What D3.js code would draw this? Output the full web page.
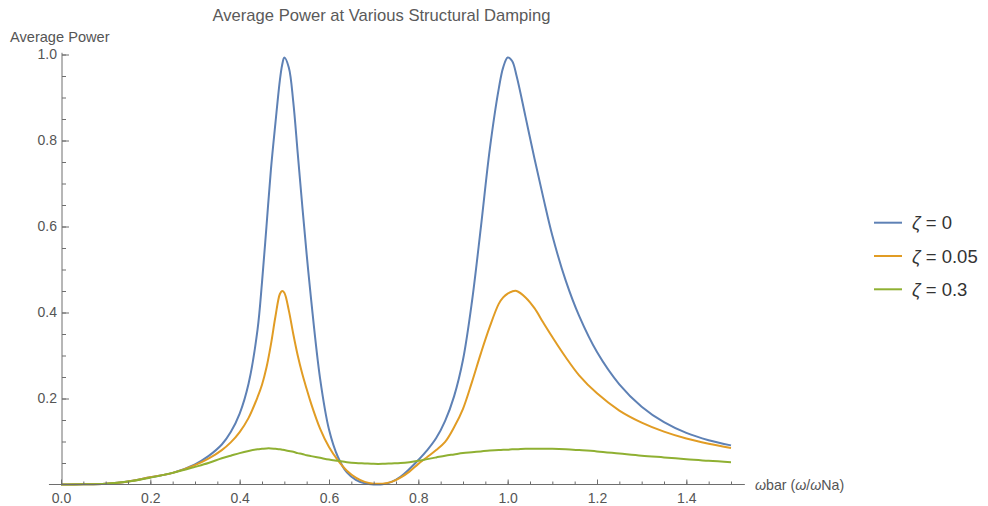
<!DOCTYPE html>
<html>
<head>
<meta charset="utf-8">
<script src="https://cdn.jsdelivr.net/npm/d3@7"></script>
<style>
  html, body { margin: 0; padding: 0; background: #fff; }
  svg { display: block; font-family: "Liberation Sans", Arial, sans-serif; }
</style>
</head>
<body>
<svg id="chart" width="988" height="506"></svg>
<script>
// Normalized frequency ωbar = ω/ωNa
const omega = [0, 0.05, 0.1, 0.15, 0.2, 0.25, 0.3, 0.33, 0.36, 0.38, 0.40, 0.42, 0.44, 0.45, 0.46, 0.47, 0.48, 0.49, 0.495, 0.50, 0.51, 0.52, 0.53, 0.54, 0.55, 0.56, 0.58, 0.60, 0.62, 0.64, 0.66, 0.68, 0.70, 0.72, 0.74, 0.76, 0.78, 0.80, 0.82, 0.84, 0.86, 0.88, 0.90, 0.92, 0.94, 0.96, 0.98, 0.99, 1.00, 1.01, 1.02, 1.04, 1.06, 1.08, 1.10, 1.13, 1.16, 1.20, 1.25, 1.30, 1.35, 1.40, 1.45, 1.50];

// Average power, ζ = 0
const powerZeta0 = [0, 0.0005, 0.002, 0.007, 0.017, 0.027, 0.047, 0.066, 0.093, 0.122, 0.165, 0.235, 0.36, 0.47, 0.60, 0.733, 0.84, 0.94, 0.975, 0.993, 0.97, 0.89, 0.77, 0.65, 0.535, 0.43, 0.247, 0.128, 0.064, 0.028, 0.011, 0.003, 0.0002, 0.0005, 0.006, 0.018, 0.036, 0.057, 0.080, 0.108, 0.148, 0.205, 0.29, 0.425, 0.598, 0.78, 0.92, 0.97, 0.993, 0.985, 0.95, 0.855, 0.758, 0.666, 0.579, 0.474, 0.392, 0.308, 0.233, 0.181, 0.145, 0.120, 0.103, 0.091];

// Average power, ζ = 0.05
const powerZeta005 = [0, 0.0005, 0.002, 0.007, 0.017, 0.027, 0.045, 0.060, 0.080, 0.098, 0.122, 0.155, 0.203, 0.232, 0.272, 0.326, 0.39, 0.443, 0.450, 0.446, 0.405, 0.35, 0.30, 0.258, 0.222, 0.188, 0.13, 0.087, 0.056, 0.032, 0.016, 0.006, 0.002, 0.002, 0.006, 0.016, 0.030, 0.048, 0.064, 0.080, 0.099, 0.133, 0.176, 0.238, 0.305, 0.367, 0.42, 0.435, 0.444, 0.449, 0.450, 0.435, 0.41, 0.376, 0.343, 0.296, 0.254, 0.212, 0.172, 0.144, 0.123, 0.107, 0.095, 0.085];

// Average power, ζ = 0.3
const powerZeta03 = [0, 0.0005, 0.002, 0.007, 0.016, 0.027, 0.041, 0.050, 0.061, 0.067, 0.073, 0.078, 0.082, 0.083, 0.084, 0.084, 0.083, 0.082, 0.081, 0.080, 0.078, 0.076, 0.073, 0.071, 0.068, 0.066, 0.062, 0.058, 0.055, 0.052, 0.050, 0.049, 0.048, 0.048, 0.049, 0.050, 0.052, 0.055, 0.059, 0.063, 0.067, 0.070, 0.073, 0.075, 0.077, 0.079, 0.080, 0.081, 0.081, 0.082, 0.082, 0.083, 0.083, 0.083, 0.083, 0.082, 0.080, 0.077, 0.072, 0.067, 0.063, 0.059, 0.055, 0.052];

const zetaLabels = ["0", "0.05", "0.3"];
const seriesColors = ["#5e81b5", "#e19c24", "#8fb032"];

const xMajorTicks = [0, 0.2, 0.4, 0.6, 0.8, 1.0, 1.2, 1.4];
const xMinorTicks = d3.range(0, 31).map(i => +(i * 0.05).toFixed(2));
const yMajorTicks = [0.2, 0.4, 0.6, 0.8, 1.0];
const yMinorTicks = d3.range(1, 21).map(i => +(i * 0.05).toFixed(2));

const series = [powerZeta0, powerZeta005, powerZeta03].map((vals, i) => ({
  label: zetaLabels[i],
  color: seriesColors[i],
  points: omega.map((w, j) => [w, vals[j]])
}));

const svg = d3.select("#chart");
const axisColor = "#6e6e6e";
const labelColor = "#555";

const x = d3.scaleLinear().domain([0, 1.5]).range([61, 731]);
const y = d3.scaleLinear().domain([0, 1]).range([484.5, 54.5]);

// Title
svg.append("text")
  .attr("x", 381.5).attr("y", 21)
  .attr("text-anchor", "middle")
  .attr("font-size", 16.6)
  .attr("fill", "#5a5a5a")
  .text("Average Power at Various Structural Damping");

// Curves (centripetal Catmull–Rom keeps the unevenly spaced samples smooth)
const line = d3.line()
  .x(d => x(d[0]))
  .y(d => y(d[1]))
  .curve(d3.curveCatmullRom.alpha(0.5));

svg.append("g")
  .selectAll("path")
  .data(series)
  .join("path")
  .attr("fill", "none")
  .attr("stroke", d => d.color)
  .attr("stroke-width", 2)
  .attr("stroke-linejoin", "round")
  .attr("d", d => line(d.points));

// X axis
const gx = svg.append("g").attr("transform", `translate(0,${y(0)})`);
gx.append("line")
  .attr("x1", x(-0.027)).attr("x2", x(1.531))
  .attr("stroke", axisColor).attr("stroke-width", 1);
gx.append("g")
  .call(d3.axisBottom(x).tickValues(xMinorTicks).tickSize(-3).tickFormat(""))
  .call(g => g.select(".domain").remove());
gx.append("g")
  .call(d3.axisBottom(x).tickValues(xMajorTicks).tickSize(-5).tickPadding(8.5).tickFormat(d3.format(".1f")))
  .call(g => g.select(".domain").remove());
gx.selectAll(".tick line").attr("stroke", axisColor);
gx.selectAll(".tick text")
  .attr("font-size", 14).attr("fill", labelColor)
  .attr("font-family", "'Liberation Sans', Arial, sans-serif");

// X axis label
const xl = svg.append("text")
  .attr("x", 755).attr("y", y(0) + 5)
  .attr("font-size", 14.2)
  .attr("fill", labelColor);
xl.append("tspan").attr("font-style", "italic").text("ω");
xl.append("tspan").text("bar (");
xl.append("tspan").attr("font-style", "italic").text("ω");
xl.append("tspan").text("/");
xl.append("tspan").attr("font-style", "italic").text("ω");
xl.append("tspan").text("Na)");

// Y axis
const gy = svg.append("g").attr("transform", `translate(${x(0) + 1},0)`);
gy.append("line")
  .attr("y1", y(0)).attr("y2", y(1.004))
  .attr("stroke", axisColor).attr("stroke-width", 1);
gy.append("g")
  .call(d3.axisLeft(y).tickValues(yMinorTicks).tickSize(-4).tickFormat(""))
  .call(g => g.select(".domain").remove());
gy.append("g")
  .call(d3.axisLeft(y).tickValues(yMajorTicks).tickSize(-7).tickPadding(5).tickFormat(d3.format(".1f")))
  .call(g => g.select(".domain").remove());
gy.selectAll(".tick line").attr("stroke", axisColor);
gy.selectAll(".tick text")
  .attr("font-size", 14).attr("fill", labelColor)
  .attr("font-family", "'Liberation Sans', Arial, sans-serif");

// Y axis label
svg.append("text")
  .attr("x", 10).attr("y", 41.5)
  .attr("font-size", 14.6)
  .attr("fill", labelColor)
  .text("Average Power");

// Legend
const legend = svg.append("g")
  .selectAll("g")
  .data(series)
  .join("g")
  .attr("transform", (d, i) => `translate(874,${222.7 + i * 33.3})`);
legend.append("line")
  .attr("x1", 0).attr("x2", 28)
  .attr("stroke", d => d.color)
  .attr("stroke-width", 2);
const lt = legend.append("text")
  .attr("x", 38).attr("dy", "0.36em")
  .attr("font-size", 18.5)
  .attr("fill", "#333");
lt.append("tspan").attr("font-style", "italic").text("ζ");
lt.append("tspan").text(d => " = " + d.label);
</script>
</body>
</html>
